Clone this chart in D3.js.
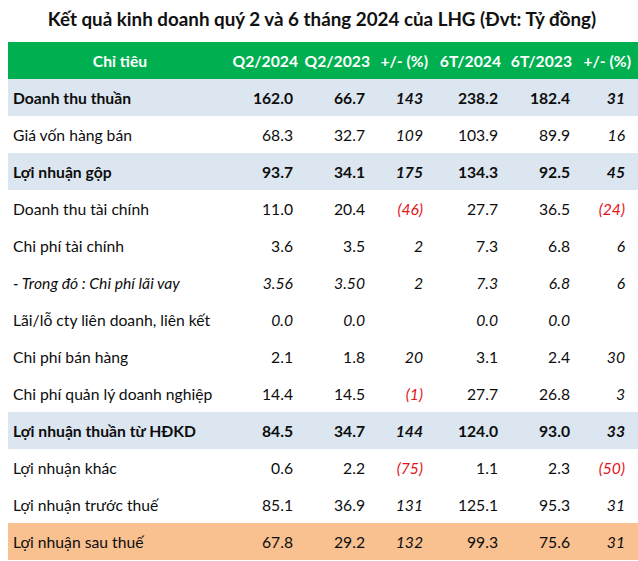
<!DOCTYPE html>
<html><head><meta charset="utf-8">
<script src="https://cdn.jsdelivr.net/npm/d3@7"></script>
<style>
html,body{margin:0;padding:0;background:#fff;}
svg{display:block;font-family:Lato, "Liberation Sans", sans-serif;}
</style></head>
<body>
<script>
const title = "Kết quả kinh doanh quý 2 và 6 tháng 2024 của LHG (Đvt: Tỷ đồng)";
const headers = ["Chỉ tiêu","Q2/2024","Q2/2023","+/- (%)","6T/2024","6T/2023","+/- (%)"];
const items = ["Doanh thu thuần","Giá vốn hàng bán","Lợi nhuận gộp","Doanh thu tài chính","Chi phí tài chính","- Trong đó : Chi phí lãi vay","Lãi/lỗ cty liên doanh, liên kết","Chi phí bán hàng","Chi phí quản lý doanh nghiệp","Lợi nhuận thuần từ HĐKD","Lợi nhuận khác","Lợi nhuận trước thuế","Lợi nhuận sau thuế"];
const q2_2024 = [162.0,68.3,93.7,11.0,3.6,3.56,0.0,2.1,14.4,84.5,0.6,85.1,67.8];
const q2_2023 = [66.7,32.7,34.1,20.4,3.5,3.50,0.0,1.8,14.5,34.7,2.2,36.9,29.2];
const pctQ2   = [143,109,175,-46,2,2,null,20,-1,144,-75,131,132];
const h1_2024 = [238.2,103.9,134.3,27.7,7.3,7.3,0.0,3.1,27.7,124.0,1.1,125.1,99.3];
const h1_2023 = [182.4,89.9,92.5,36.5,6.8,6.8,0.0,2.4,26.8,93.0,2.3,95.3,75.6];
const pctH1   = [31,16,45,-24,6,6,null,30,3,33,-50,31,31];
const rowType = ["bold","normal","bold","normal","normal","italic","italicValues","normal","normal","bold","normal","normal","total"];
const decimals = [1,1,1,1,1,2,1,1,1,1,1,1,1];

const W = 638, H = 561;
const FS = 15.7;
const svg = d3.select("body").append("svg").attr("width",W).attr("height",H);

const colKeys = ["label","q2_2024","q2_2023","pctQ2","h1_2024","h1_2023","pctH1"];
const xVal = d3.scaleOrdinal().domain(colKeys).range([13,293,365,423,498,570,625]);
const xHead = d3.scaleOrdinal().domain(colKeys).range([120,298,370,428,501,572,631]);
const y = d3.scaleBand().domain(d3.range(-1, items.length)).range([42,560]).padding(0);

const colors = {green:"#00b050", blue:"#dce6f1", orange:"#f9c090", red:"#e3141c", text:"#0d0d0d"};

// title
svg.append("text").attr("x",322).attr("y",26).attr("text-anchor","middle")
  .attr("font-weight","bold").attr("font-size",18.8).attr("fill","#111").text(title);

// header band
svg.append("rect").attr("x",8).attr("y",y(-1)).attr("width",W-8).attr("height",y.bandwidth()).attr("fill",colors.green);
svg.selectAll("text.h").data(headers).join("text").attr("class","h")
  .attr("x",(d,i)=>xHead(colKeys[i])).attr("y",y(-1)+y.bandwidth()/2+6)
  .attr("text-anchor",(d,i)=>i===0?"middle":"end")
  .attr("font-weight","bold").attr("font-size",FS).attr("fill","#fff").text(d=>d);

// row backgrounds
const rows = items.map((name,i)=>({i,name,type:rowType[i],
  vals:[q2_2024[i],q2_2023[i],pctQ2[i],h1_2024[i],h1_2023[i],pctH1[i]]}));
svg.selectAll("rect.bg").data(rows.filter(r=>r.type==="bold"||r.type==="total")).join("rect").attr("class","bg")
  .attr("x",8).attr("y",r=>y(r.i)).attr("width",W-8).attr("height",y.bandwidth())
  .attr("fill",r=>r.type==="total"?colors.orange:colors.blue);

const g = svg.selectAll("g.row").data(rows).join("g").attr("class","row")
  .attr("transform",r=>`translate(0,${y(r.i)+y.bandwidth()/2+6.3})`);

g.append("text").attr("x",xVal("label"))
  .attr("font-size",FS).attr("fill",colors.text)
  .attr("font-weight",r=>r.type==="bold"?"bold":"normal")
  .attr("font-style",r=>r.type==="italic"?"italic":"normal")
  .text(r=>r.name);

const fmtPct = v => v<0 ? `(${Math.abs(v)})` : String(v);
g.each(function(r){
  const sel = d3.select(this);
  r.vals.forEach((v,j)=>{
    if(v===null) return;
    const isPct = (j===2||j===5);
    const dec = (j<2) ? decimals[r.i] : 1;
    const txt = isPct ? fmtPct(v) : d3.format(`.${dec}f`)(v);
    sel.append("text").attr("x",xVal(colKeys[j+1])).attr("text-anchor","end")
      .attr("font-size",FS)
      .attr("font-weight",r.type==="bold"?"bold":"normal")
      .attr("font-style",(isPct||r.type==="italic"||r.type==="italicValues")?"italic":"normal")
      .attr("fill",isPct&&v<0?colors.red:colors.text)
      .text(txt);
  });
});
</script>
</body></html>
